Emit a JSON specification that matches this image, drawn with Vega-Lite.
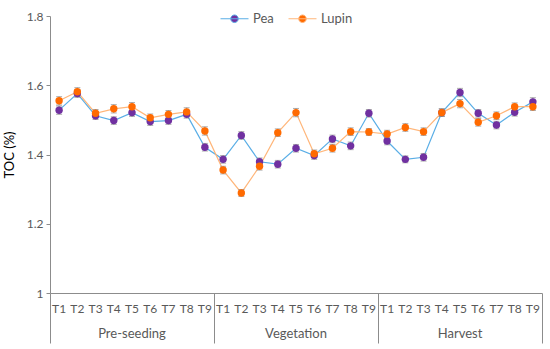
{
  "$schema": "https://vega.github.io/schema/vega-lite/v6.json",
  "width": 492,
  "height": 277,
  "autosize": {"type": "none"},
  "padding": {"left": 50, "top": 16, "right": 8, "bottom": 56},
  "background": "white",
  "config": {
    "font": "Lato",
    "view": {"stroke": null},
    "axis": {"grid": false, "domainColor": "#8c8c8c", "tickColor": "#8c8c8c", "labelColor": "#595959", "labelFontSize": 12}
  },
  "data": {"values": [
    {"key": "Pre-seeding T1", "series": "Pea", "toc": 1.528, "err": 0.012},
    {"key": "Pre-seeding T2", "series": "Pea", "toc": 1.576, "err": 0.011},
    {"key": "Pre-seeding T3", "series": "Pea", "toc": 1.512, "err": 0.011},
    {"key": "Pre-seeding T4", "series": "Pea", "toc": 1.498, "err": 0.011},
    {"key": "Pre-seeding T5", "series": "Pea", "toc": 1.521, "err": 0.011},
    {"key": "Pre-seeding T6", "series": "Pea", "toc": 1.495, "err": 0.011},
    {"key": "Pre-seeding T7", "series": "Pea", "toc": 1.498, "err": 0.011},
    {"key": "Pre-seeding T8", "series": "Pea", "toc": 1.516, "err": 0.011},
    {"key": "Pre-seeding T9", "series": "Pea", "toc": 1.421, "err": 0.011},
    {"key": "Vegetation T1", "series": "Pea", "toc": 1.386, "err": 0.011},
    {"key": "Vegetation T2", "series": "Pea", "toc": 1.455, "err": 0.011},
    {"key": "Vegetation T3", "series": "Pea", "toc": 1.379, "err": 0.011},
    {"key": "Vegetation T4", "series": "Pea", "toc": 1.372, "err": 0.011},
    {"key": "Vegetation T5", "series": "Pea", "toc": 1.418, "err": 0.011},
    {"key": "Vegetation T6", "series": "Pea", "toc": 1.397, "err": 0.011},
    {"key": "Vegetation T7", "series": "Pea", "toc": 1.445, "err": 0.011},
    {"key": "Vegetation T8", "series": "Pea", "toc": 1.425, "err": 0.011},
    {"key": "Vegetation T9", "series": "Pea", "toc": 1.519, "err": 0.011},
    {"key": "Harvest T1", "series": "Pea", "toc": 1.439, "err": 0.011},
    {"key": "Harvest T2", "series": "Pea", "toc": 1.386, "err": 0.01},
    {"key": "Harvest T3", "series": "Pea", "toc": 1.392, "err": 0.011},
    {"key": "Harvest T4", "series": "Pea", "toc": 1.521, "err": 0.011},
    {"key": "Harvest T5", "series": "Pea", "toc": 1.579, "err": 0.012},
    {"key": "Harvest T6", "series": "Pea", "toc": 1.519, "err": 0.011},
    {"key": "Harvest T7", "series": "Pea", "toc": 1.485, "err": 0.011},
    {"key": "Harvest T8", "series": "Pea", "toc": 1.522, "err": 0.011},
    {"key": "Harvest T9", "series": "Pea", "toc": 1.552, "err": 0.012},
    {"key": "Pre-seeding T1", "series": "Lupin", "toc": 1.555, "err": 0.012},
    {"key": "Pre-seeding T2", "series": "Lupin", "toc": 1.581, "err": 0.012},
    {"key": "Pre-seeding T3", "series": "Lupin", "toc": 1.519, "err": 0.011},
    {"key": "Pre-seeding T4", "series": "Lupin", "toc": 1.532, "err": 0.012},
    {"key": "Pre-seeding T5", "series": "Lupin", "toc": 1.538, "err": 0.012},
    {"key": "Pre-seeding T6", "series": "Lupin", "toc": 1.506, "err": 0.011},
    {"key": "Pre-seeding T7", "series": "Lupin", "toc": 1.516, "err": 0.011},
    {"key": "Pre-seeding T8", "series": "Lupin", "toc": 1.523, "err": 0.012},
    {"key": "Pre-seeding T9", "series": "Lupin", "toc": 1.468, "err": 0.012},
    {"key": "Vegetation T1", "series": "Lupin", "toc": 1.355, "err": 0.011},
    {"key": "Vegetation T2", "series": "Lupin", "toc": 1.289, "err": 0.01},
    {"key": "Vegetation T3", "series": "Lupin", "toc": 1.366, "err": 0.011},
    {"key": "Vegetation T4", "series": "Lupin", "toc": 1.463, "err": 0.011},
    {"key": "Vegetation T5", "series": "Lupin", "toc": 1.521, "err": 0.012},
    {"key": "Vegetation T6", "series": "Lupin", "toc": 1.402, "err": 0.011},
    {"key": "Vegetation T7", "series": "Lupin", "toc": 1.418, "err": 0.011},
    {"key": "Vegetation T8", "series": "Lupin", "toc": 1.466, "err": 0.011},
    {"key": "Vegetation T9", "series": "Lupin", "toc": 1.465, "err": 0.01},
    {"key": "Harvest T1", "series": "Lupin", "toc": 1.459, "err": 0.011},
    {"key": "Harvest T2", "series": "Lupin", "toc": 1.478, "err": 0.011},
    {"key": "Harvest T3", "series": "Lupin", "toc": 1.466, "err": 0.011},
    {"key": "Harvest T4", "series": "Lupin", "toc": 1.521, "err": 0.011},
    {"key": "Harvest T5", "series": "Lupin", "toc": 1.547, "err": 0.012},
    {"key": "Harvest T6", "series": "Lupin", "toc": 1.493, "err": 0.011},
    {"key": "Harvest T7", "series": "Lupin", "toc": 1.512, "err": 0.011},
    {"key": "Harvest T8", "series": "Lupin", "toc": 1.538, "err": 0.011},
    {"key": "Harvest T9", "series": "Lupin", "toc": 1.538, "err": 0.011}
  ]},
  "resolve": {"axis": {"x": "independent"}},
  "layer": [
    {
      "transform": [{"filter": "datum.series == 'Pea'"}],
      "mark": {"type": "line", "strokeWidth": 1.2},
      "encoding": {
        "x": {"field": "key", "type": "ordinal", "sort": null,
          "scale": {"type": "band", "paddingInner": 0, "paddingOuter": 0},
          "axis": {"orient": "bottom", "title": null, "ticks": false, "domain": true, "labelAngle": 0,
            "labelExpr": "split(datum.value, ' ')[1]", "labelPadding": 10, "labelFontSize": 12}},
        "y": {"field": "toc", "type": "quantitative", "title": "TOC (%)",
          "scale": {"domain": [1, 1.8], "nice": false, "zero": false},
          "axis": {"titleColor": "#000000", "titleFontWeight": "normal", "titleFontSize": 13,
            "titlePadding": 10, "values": [1, 1.1, 1.2, 1.3, 1.4, 1.5, 1.6, 1.7, 1.8], "tickSize": 4,
            "labelPadding": 3,
            "labelExpr": "round(datum.value * 10) % 2 == 0 ? format(datum.value, '~g') : ''"}},
        "stroke": {"field": "series", "type": "nominal",
          "scale": {"domain": ["Pea", "Lupin"], "range": ["#5aaee6", "#ffb67a"]}}
      }
    },
    {
      "transform": [{"filter": "datum.series == 'Lupin'"}],
      "mark": {"type": "line", "strokeWidth": 1.2},
      "encoding": {
        "x": {"field": "key", "type": "ordinal", "sort": null,
          "axis": {"orient": "bottom", "title": null, "labels": false, "domain": false,
            "values": ["Pre-seeding T1"], "bandPosition": 0, "tickSize": 50}},
        "y": {"field": "toc", "type": "quantitative", "title": "TOC (%)"},
        "stroke": {"field": "series", "type": "nominal"}
      }
    },
    {
      "mark": {"type": "errorbar", "ticks": {"size": 6, "color": "#8a8a8a"}, "rule": {"color": "#8a8a8a"}},
      "encoding": {
        "x": {"field": "key", "type": "ordinal", "sort": null,
          "axis": {"orient": "bottom", "title": null, "ticks": false, "domain": false, "labelAngle": 0,
            "values": ["Pre-seeding T5", "Vegetation T5", "Harvest T5"],
            "labelExpr": "split(datum.value, ' ')[0]", "labelPadding": 34, "labelFontSize": 13}},
        "y": {"field": "toc", "type": "quantitative", "title": "TOC (%)"},
        "yError": {"field": "err"},
        "detail": {"field": "series"}
      }
    },
    {
      "mark": {"type": "point", "filled": true, "size": 55, "opacity": 1, "strokeWidth": 1, "strokeOpacity": 0},
      "encoding": {
        "x": {"field": "key", "type": "ordinal", "sort": null,
          "axis": {"orient": "bottom", "title": null, "labels": false, "domain": false,
            "values": ["Pre-seeding T9", "Vegetation T9", "Harvest T9"], "bandPosition": 1, "tickSize": 50}},
        "y": {"field": "toc", "type": "quantitative", "title": "TOC (%)"},
        "fill": {"field": "series", "type": "nominal",
          "scale": {"domain": ["Pea", "Lupin"], "range": ["#7030a0", "#ff6a00"]},
          "legend": {"orient": "none", "legendX": 170, "legendY": -12, "direction": "horizontal", "title": null,
            "symbolType": "M-1,0H1M0.27,0A0.27,0.27,0,1,1,-0.27,0A0.27,0.27,0,1,1,0.27,0",
            "symbolSize": 784, "symbolStrokeWidth": 1, "symbolOpacity": 1, "labelFontSize": 13, "labelColor": "#595959",
            "columnPadding": 12, "labelOffset": 4}},
        "stroke": {"field": "series", "type": "nominal"}
      }
    }
  ]
}
